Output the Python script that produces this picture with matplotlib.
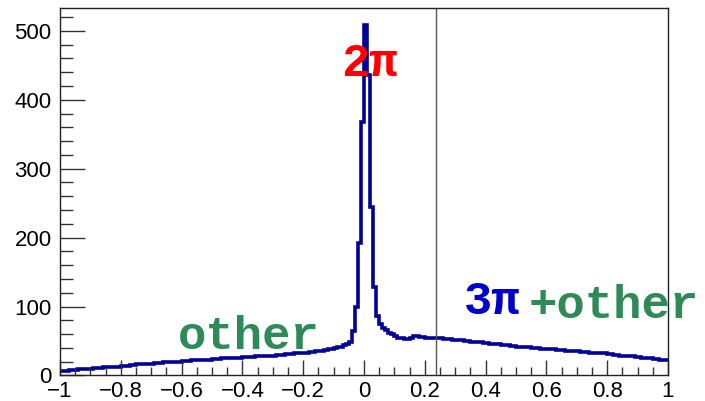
import numpy as np
import matplotlib
matplotlib.use("Agg")
import matplotlib.pyplot as plt
from matplotlib.ticker import MultipleLocator

# Histogram: 200 bins over [-1, 1]
x_min, x_max, n_bins = -1.0, 1.0, 200
counts = [
    6, 7, 7, 8, 8, 8, 9, 9, 10, 10,
    10, 11, 11, 11, 12, 12, 12, 13, 13, 13,
    14, 14, 14, 15, 15, 16, 16, 16, 17, 17,
    17, 18, 18, 18, 19, 19, 19, 20, 20, 20,
    21, 21, 21, 22, 22, 22, 23, 23, 23, 23,
    24, 24, 24, 25, 25, 25, 25, 26, 26, 26,
    27, 27, 27, 27, 28, 28, 28, 29, 29, 29,
    29, 30, 30, 30, 31, 31, 31, 32, 32, 32,
    33, 33, 34, 34, 35, 35, 36, 37, 38, 39,
    40, 41, 42, 44, 46, 48, 65, 99, 192, 368,
    509, 436, 245, 128, 86, 74, 69, 66, 62, 60,
    57, 55, 54, 53, 53, 55, 57, 57, 56, 56,
    55, 55, 55, 54, 54, 54, 53, 53, 53, 52,
    52, 51, 51, 50, 50, 49, 49, 48, 48, 47,
    47, 46, 46, 45, 45, 44, 44, 44, 43, 43,
    42, 42, 41, 41, 41, 40, 40, 40, 39, 39,
    39, 38, 38, 37, 37, 37, 36, 36, 35, 35,
    35, 34, 34, 34, 33, 33, 33, 32, 32, 32,
    31, 31, 30, 30, 29, 29, 29, 28, 28, 27,
    27, 26, 26, 25, 25, 24, 24, 23, 23, 22,
]
cut_x = 0.237
y_top = 533

labels = ["2\u03c0", "other", "3\u03c0", "+other"]
label_x = [-0.074, -0.612, 0.33, 0.543]
label_y = [434, 38, 89, 83]
label_colors = ["#ff0000", "#2e8b57", "#0000cc", "#2e8b57"]

edges = np.linspace(x_min, x_max, n_bins + 1)

plt.rcParams["font.family"] = ["Liberation Sans", "DejaVu Sans"]
fig = plt.figure(figsize=(7.05, 4.01), dpi=100)
ax = fig.add_axes([0.0851, 0.0636, 0.9475 - 0.0851, 0.980 - 0.0636])

ax.stairs(counts, edges, color="#000099", linewidth=2.6, baseline=None)
ax.axvline(cut_x, color="#555555", linewidth=1.0)

for t, lx, ly, c in zip(labels, label_x, label_y, label_colors):
    ax.text(lx, ly, t, color=c, fontsize=34, fontweight="bold",
            family=["Liberation Mono", "DejaVu Sans Mono"],
            ha="left", va="baseline", clip_on=False)

ax.set_xlim(x_min, x_max)
ax.set_ylim(0, y_top)
ax.xaxis.set_major_locator(MultipleLocator(0.2))
ax.xaxis.set_minor_locator(MultipleLocator(0.05))
ax.yaxis.set_major_locator(MultipleLocator(100))
ax.yaxis.set_minor_locator(MultipleLocator(20))
ax.tick_params(axis="both", which="both", direction="in", top=False, right=False,
               labelsize=16, width=1.0, color="#333333")
ax.tick_params(axis="x", which="major", length=11, pad=4)
ax.tick_params(axis="x", which="minor", length=5.5)
ax.tick_params(axis="y", which="major", length=18, pad=6)
ax.tick_params(axis="y", which="minor", length=9)

def fmt(v, pos):
    if abs(v) < 1e-9:
        return "0"
    s = f"{v:g}"
    return s.replace("-", "\u2212")

ax.xaxis.set_major_formatter(plt.FuncFormatter(fmt))
for sp in ax.spines.values():
    sp.set_linewidth(1.0)
    sp.set_color("#222222")

fig.savefig("out.png", dpi=100)
